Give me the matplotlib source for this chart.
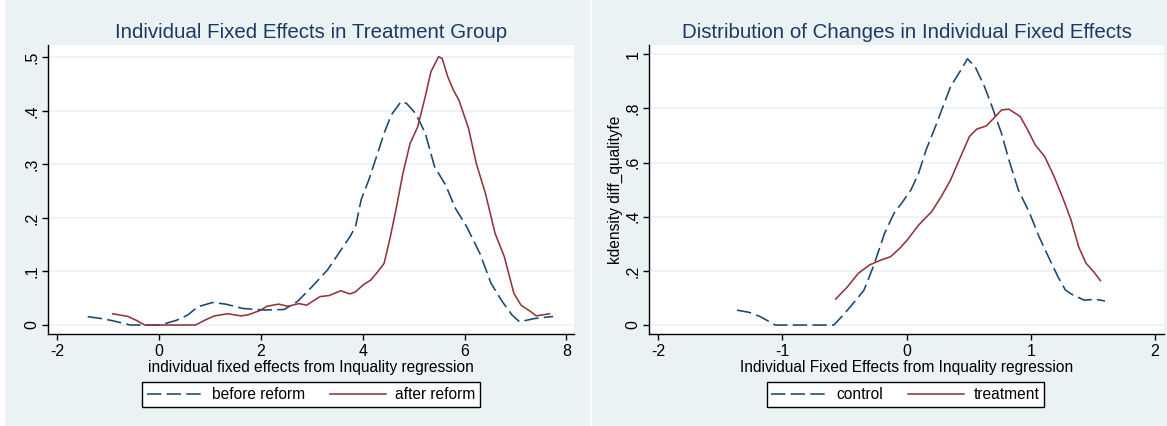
import matplotlib
matplotlib.use("Agg")
import matplotlib.pyplot as plt
from matplotlib.patches import Rectangle

# ---------------- data ----------------
# Left panel: kernel densities before / after reform
before_x = [-1.40, -1.13, -0.91, -0.57, 0.02, 0.35, 0.57, 0.76, 1.05, 1.31, 1.64, 2.05, 2.46,
            2.72, 3.01, 3.31, 3.53, 3.75, 3.86, 3.97, 4.12, 4.27, 4.42, 4.56, 4.75, 4.86,
            5.04, 5.23, 5.41, 5.63, 5.82, 6.04, 6.30, 6.52, 6.74, 6.93, 7.08, 7.37, 7.74]
before_y = [0.0156, 0.012, 0.008, 0.0, 0.0, 0.009, 0.019, 0.034, 0.042, 0.039, 0.031, 0.028, 0.029,
            0.044, 0.072, 0.103, 0.134, 0.165, 0.184, 0.234, 0.271, 0.314, 0.358, 0.392, 0.417, 0.414,
            0.395, 0.358, 0.296, 0.261, 0.218, 0.184, 0.134, 0.078, 0.044, 0.019, 0.006, 0.012, 0.016]

after_x = [-0.91, -0.61, -0.43, -0.28, 0.72, 0.90, 1.09, 1.35, 1.61, 1.75, 1.98, 2.12, 2.35,
           2.53, 2.75, 2.90, 3.16, 3.34, 3.57, 3.75, 3.86, 4.01, 4.16, 4.30, 4.42, 4.53, 4.64,
           4.79, 4.93, 5.08, 5.23, 5.34, 5.49, 5.56, 5.67, 5.78, 5.89, 6.08, 6.23, 6.41, 6.60,
           6.78, 6.97, 7.11, 7.30, 7.41, 7.67]
after_y = [0.021, 0.016, 0.008, 0.0, 0.0, 0.009, 0.017, 0.021, 0.017, 0.019, 0.027, 0.035, 0.039,
           0.035, 0.040, 0.037, 0.053, 0.055, 0.064, 0.058, 0.062, 0.075, 0.084, 0.100, 0.115, 0.159, 0.209,
           0.283, 0.339, 0.370, 0.427, 0.473, 0.501, 0.498, 0.464, 0.439, 0.420, 0.367, 0.302, 0.246, 0.171,
           0.128, 0.059, 0.037, 0.025, 0.017, 0.021]

# Right panel: kernel densities of changes, control / treatment
control_x = [-1.364, -1.267, -1.176, -1.055, -0.585, -0.509, -0.418, -0.342, -0.267, -0.176, -0.100,
             -0.039, 0.036, 0.097, 0.158, 0.233, 0.294, 0.355, 0.430, 0.491, 0.552, 0.627, 0.688,
             0.764, 0.824, 0.900, 0.991, 1.067, 1.142, 1.218, 1.279, 1.339, 1.430, 1.521, 1.597]
control_y = [0.055, 0.047, 0.031, 0.0, 0.0, 0.037, 0.086, 0.129, 0.216, 0.339, 0.413,
             0.450, 0.499, 0.560, 0.647, 0.733, 0.807, 0.881, 0.936, 0.983, 0.954, 0.881, 0.807,
             0.708, 0.610, 0.499, 0.413, 0.326, 0.252, 0.179, 0.129, 0.111, 0.092, 0.095, 0.089]

treat_x = [-0.570, -0.479, -0.388, -0.297, -0.206, -0.130, -0.055, 0.006, 0.097, 0.203, 0.279,
           0.355, 0.430, 0.506, 0.567, 0.642, 0.703, 0.764, 0.824, 0.915, 0.976, 1.036, 1.112,
           1.188, 1.264, 1.324, 1.385, 1.445, 1.506, 1.561]
treat_y = [0.096, 0.139, 0.191, 0.222, 0.240, 0.252, 0.283, 0.314, 0.369, 0.419, 0.474,
           0.536, 0.616, 0.696, 0.724, 0.735, 0.764, 0.794, 0.797, 0.770, 0.720, 0.665, 0.622,
           0.548, 0.462, 0.388, 0.289, 0.228, 0.197, 0.164]

left_xticks = [-2, 0, 2, 4, 6, 8]
left_yticks = [0, 0.1, 0.2, 0.3, 0.4, 0.5]
left_yticklabels = ["0", ".1", ".2", ".3", ".4", ".5"]
right_xticks = [-2, -1, 0, 1, 2]
right_yticks = [0, 0.2, 0.4, 0.6, 0.8, 1.0]
right_yticklabels = ["0", ".2", ".4", ".6", ".8", "1"]

# ---------------- style ----------------
W, H = 1167, 426
BG = "#EAF2F3"
NAVY = "#1A476F"
MAROON = "#90353B"
TITLE_C = "#1E3A64"
plt.rcParams["font.family"] = ["Liberation Sans", "DejaVu Sans"]

fig = plt.figure(figsize=(W / 100, H / 100), dpi=100, facecolor=BG)
# white separators
fig.patches.append(Rectangle((0, 0), 4 / W, 1, transform=fig.transFigure, color="white", zorder=-1))
fig.patches.append(Rectangle((589.5 / W, 0), 1.5 / W, 1, transform=fig.transFigure, color="white", zorder=-1))

def px_axes(l, r, t, b):
    return fig.add_axes([l / W, 1 - b / H, (r - l) / W, (b - t) / H])

DASH = (0, (9, 3.3))

def style(ax, xticks, yticks, yticklabels, xlim, ylim):
    ax.set_facecolor("white")
    ax.set_xlim(*xlim)
    ax.set_ylim(*ylim)
    ax.set_xticks(xticks)
    ax.set_xticklabels([str(t) for t in xticks])
    ax.set_yticks(yticks)
    ax.set_yticklabels(yticklabels, rotation=90, va="center")
    for s in ["top", "right"]:
        ax.spines[s].set_visible(False)
    for s in ["left", "bottom"]:
        ax.spines[s].set_color("black")
        ax.spines[s].set_linewidth(1.0)
    ax.tick_params(direction="out", length=4, width=1.0, labelsize=11.5, colors="black")
    ax.tick_params(axis="x", pad=3)
    ax.tick_params(axis="y", pad=2)
    ax.grid(axis="y", color=BG, linewidth=1.2)
    ax.set_axisbelow(True)

LW = 1.15

# ---------------- left panel ----------------
ax1 = px_axes(48, 574, 45, 334)
style(ax1, left_xticks, left_yticks, left_yticklabels, (-2.18, 8.15), (-0.0168, 0.523))
l1, = ax1.plot(before_x, before_y, color=NAVY, lw=LW, linestyle=DASH)
l2, = ax1.plot(after_x, after_y, color=MAROON, lw=LW)
ax1.set_title("Individual Fixed Effects in Treatment Group", fontsize=14.8, color=TITLE_C, pad=5)
ax1.set_xlabel("individual fixed effects from Inquality regression", fontsize=11.2, labelpad=1)
leg1 = ax1.legend([l1, l2], ["before reform", "after reform"], ncol=2, loc="center",
                  bbox_to_anchor=(311 / W, 1 - 394.5 / H), bbox_transform=fig.transFigure,
                  frameon=True, fancybox=False, edgecolor="black", facecolor="white",
                  fontsize=11.2, handlelength=3.6, handletextpad=0.6, columnspacing=1.6,
                  borderpad=0.3, framealpha=1)
leg1.get_frame().set_linewidth(1.0)

# ---------------- right panel ----------------
ax2 = px_axes(649, 1164, 45, 334)
style(ax2, right_xticks, right_yticks, right_yticklabels, (-2.072, 2.072), (-0.033, 1.034))
c1, = ax2.plot(control_x, control_y, color=NAVY, lw=LW, linestyle=DASH)
c2, = ax2.plot(treat_x, treat_y, color=MAROON, lw=LW)
ax2.set_title("Distribution of Changes in Individual Fixed Effects", fontsize=14.8, color=TITLE_C, pad=5)
ax2.set_xlabel("Individual Fixed Effects from Inquality regression", fontsize=11.2, labelpad=1)
ax2.set_ylabel("kdensity diff_qualityfe", fontsize=11.2, labelpad=2)
leg2 = ax2.legend([c1, c2], ["control", "treatment"], ncol=2, loc="center",
                  bbox_to_anchor=(905.5 / W, 1 - 394.5 / H), bbox_transform=fig.transFigure,
                  frameon=True, fancybox=False, edgecolor="black", facecolor="white",
                  fontsize=11.2, handlelength=3.6, handletextpad=0.6, columnspacing=1.6,
                  borderpad=0.3, framealpha=1)
leg2.get_frame().set_linewidth(1.0)

fig.savefig("out.png", dpi=100, facecolor=BG)
